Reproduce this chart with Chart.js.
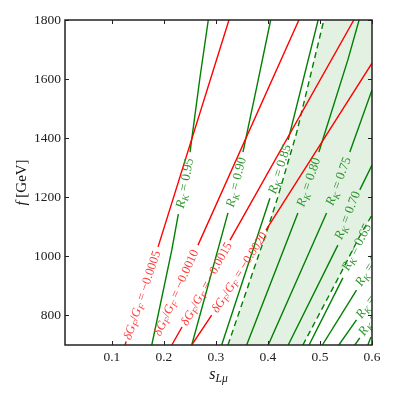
<!DOCTYPE html>
<html>
<head>
<meta charset="utf-8">
<script src="https://cdn.jsdelivr.net/npm/chart.js@4/dist/chart.umd.min.js"></script>
<style>
  html, body { margin: 0; padding: 0; background: #fff; }
</style>
</head>
<body>
<canvas id="chart" width="395" height="395"></canvas>
<script>
const xTicks = [0.1, 0.2, 0.3, 0.4, 0.5, 0.6];
const yTicks = [800, 1000, 1200, 1400, 1600, 1800];

// dG_F/G_F contours (red); null = gap where the label sits
const gfLevels = ['0.0005', '0.0010', '0.0015', '0.0020'];
const gfS = [
  [0.1255, 0.1275, null, 0.1889, 0.3251],
  [0.2656, 0.4595],
  [0.2152, 0.2349, null, 0.3271, 0.5651],
  [0.2536, 0.2919, null, 0.3962, 0.6]
];
const gfF = [
  [700, 712, null, 1032, 1800],
  [1038, 1800],
  [700, 761, null, 1055, 1800],
  [700, 801, null, 1089, 1654]
];
const gfLabelAt = [[0.157, 869], [0.2225, 878], [0.281, 908], [0.3443, 947]];

// R_K contours (green)
const rkLevels = ['0.95', '0.90', '0.85', '0.80', '0.75', '0.70', '0.65', '0.60', '0.55', '0.50', '0.45'];
const rkS = [
  [0.1768, 0.2152, 0.2278, null, 0.2503, 0.2695, 0.2854],
  [0.2536, 0.3232, null, 0.352, 0.3789, 0.4052],
  [0.3111, 0.4038, null, 0.439, 0.4965],
  [0.3591, 0.4576, null, 0.4979, 0.5536, 0.5752],
  [0.4006, 0.5127, null, 0.5574, 0.6],
  [0.439, 0.5344, null, 0.5766, 0.6],
  [0.479, 0.544],
  [0.5046, 0.5702],
  [0.5363, 0.5702],
  [0.567, 0.5766],
  [0.592, 0.598]
];
const rkF = [
  [700, 1021, 1143, null, 1353, 1607, 1800],
  [700, 1147, null, 1353, 1577, 1800],
  [700, 1197, null, 1394, 1800],
  [700, 1147, null, 1353, 1665, 1800],
  [700, 1147, null, 1353, 1563],
  [700, 1038, null, 1225, 1309],
  [700, 927],
  [700, 886],
  [700, 785],
  [700, 724],
  [700, 727]
];
const rkLabelAt = [
  [0.2388, 1248], [0.3376, 1252], [0.4211, 1296], [0.4768, 1252], [0.5344, 1255],
  [0.5516, 1140], [0.5689, 1032], [0.5983, 977], [0.601, 866], [0.606, 808], null
];

// measured R_K band edges (dashed)
const bandLoS = [0.3232, 0.4, 0.4192, 0.4551, 0.5075];
const bandLoF = [700, 1096, 1202, 1418, 1800];
const bandHiS = [0.4672, 0.5382, 0.5766, 0.6];
const bandHiF = [700, 937, 1069, 1140];

const RED = '#ff0000';
const GREEN = '#008000';
const SERIF = "'Liberation Serif', 'DejaVu Serif', serif";

function lineSet(S, F, color, dash) {
  return {
    data: S.map((s, i) => ({ x: s, y: F[i] })),
    showLine: true,
    borderColor: color,
    borderWidth: 1.4,
    borderDash: dash,
    pointRadius: 0,
    pointHoverRadius: 0,
    tension: 0,
    spanGaps: false,
    fill: false
  };
}

const datasets = [];
gfS.forEach((S, k) => datasets.push(lineSet(S, gfF[k], RED, [])));
rkS.forEach((S, k) => datasets.push(lineSet(S, rkF[k], GREEN, [])));
datasets.push(lineSet(bandLoS, bandLoF, GREEN, [6, 4]));
datasets.push(lineSet(bandHiS, bandHiF, GREEN, [6, 4]));

// draws pieces of text: [text, style]; style r / i / sr / si (s = subscript)
function drawRich(ctx, parts, size, color) {
  const fontOf = (p) => {
    const sub = p[1][0] === 's';
    const it = p[1].endsWith('i');
    return (it ? 'italic ' : '') + (sub ? size * 0.72 : size) + 'px ' + SERIF;
  };
  let w = 0;
  parts.forEach((p) => { ctx.font = fontOf(p); w += ctx.measureText(p[0]).width; });
  let x = -w / 2;
  ctx.fillStyle = color;
  ctx.textBaseline = 'alphabetic';
  ctx.textAlign = 'left';
  parts.forEach((p) => {
    ctx.font = fontOf(p);
    const sub = p[1][0] === 's';
    ctx.fillText(p[0], x, size * 0.35 + (sub ? size * 0.22 : 0));
    x += ctx.measureText(p[0]).width;
  });
}

function labelAngle(xs, ys, S, F) {
  const i = S.indexOf(null);
  const a = i > 0 ? i - 1 : 0;
  const b = i > 0 ? i + 1 : 1;
  const dx = xs.getPixelForValue(S[b]) - xs.getPixelForValue(S[a]);
  const dy = ys.getPixelForValue(F[b]) - ys.getPixelForValue(F[a]);
  return Math.atan2(dy, dx);
}

const decor = {
  id: 'decor',
  beforeDatasetsDraw(chart) {
    const { ctx, chartArea: ca, scales: { x, y } } = chart;
    ctx.save();
    ctx.beginPath();
    ctx.rect(ca.left, ca.top, ca.right - ca.left, ca.bottom - ca.top);
    ctx.clip();
    ctx.beginPath();
    bandLoS.forEach((s, i) => ctx.lineTo(x.getPixelForValue(s), y.getPixelForValue(bandLoF[i])));
    ctx.lineTo(x.getPixelForValue(0.6), y.getPixelForValue(1800));
    for (let i = bandHiS.length - 1; i >= 0; i--) {
      ctx.lineTo(x.getPixelForValue(bandHiS[i]), y.getPixelForValue(bandHiF[i]));
    }
    ctx.closePath();
    ctx.fillStyle = 'rgba(0,128,0,0.11)';
    ctx.fill();
    ctx.restore();
  },
  afterDatasetsDraw(chart) {
    const { ctx, chartArea: ca, scales: { x, y } } = chart;
    ctx.save();
    ctx.beginPath();
    ctx.rect(ca.left, ca.top, ca.right - ca.left, ca.bottom - ca.top);
    ctx.clip();
    gfLabelAt.forEach((pos, k) => {
      ctx.save();
      ctx.translate(x.getPixelForValue(pos[0]), y.getPixelForValue(pos[1]));
      ctx.rotate(labelAngle(x, y, gfS[k], gfF[k]));
      drawRich(ctx, [['δG', 'i'], ['F', 'si'], ['/', 'r'], ['G', 'i'], ['F', 'si'],
        [' = −' + gfLevels[k], 'r']], 12.5, '#ff3a3a');
      ctx.restore();
    });
    rkLabelAt.forEach((pos, k) => {
      if (!pos) return;
      ctx.save();
      ctx.translate(x.getPixelForValue(pos[0]), y.getPixelForValue(pos[1]));
      ctx.rotate(labelAngle(x, y, rkS[k], rkF[k]));
      drawRich(ctx, [['R', 'i'], ['K', 'si'], [' = ' + rkLevels[k], 'r']], 13, '#2f962f');
      ctx.restore();
    });
    ctx.restore();
  },
  afterDraw(chart) {
    const { ctx, chartArea: ca, scales: { x, y } } = chart;
    ctx.save();
    ctx.strokeStyle = '#222';
    ctx.lineWidth = 1;
    ctx.beginPath();
    xTicks.forEach((v) => {
      const px = Math.round(x.getPixelForValue(v)) + 0.5;
      ctx.moveTo(px, ca.bottom); ctx.lineTo(px, ca.bottom - 4);
      ctx.moveTo(px, ca.top); ctx.lineTo(px, ca.top + 4);
    });
    yTicks.forEach((v) => {
      const py = Math.round(y.getPixelForValue(v)) + 0.5;
      ctx.moveTo(ca.left, py); ctx.lineTo(ca.left + 4, py);
      ctx.moveTo(ca.right, py); ctx.lineTo(ca.right - 4, py);
    });
    ctx.stroke();
    ctx.lineWidth = 1.5;
    ctx.strokeRect(ca.left, ca.top, ca.right - ca.left, ca.bottom - ca.top);

    ctx.save();
    ctx.translate(21, (ca.top + ca.bottom) / 2);
    ctx.rotate(-Math.PI / 2);
    drawRich(ctx, [['f', 'i'], [' [GeV]', 'r']], 15, '#111');
    ctx.restore();

    ctx.save();
    ctx.translate((ca.left + ca.right) / 2, 373);
    drawRich(ctx, [['s', 'i'], ['Lμ', 'si']], 16, '#111');
    ctx.restore();
    ctx.restore();
  }
};

new Chart(document.getElementById('chart'), {
  type: 'scatter',
  data: { datasets },
  options: {
    responsive: false,
    animation: false,
    layout: { padding: { top: 20, right: 23, left: 0, bottom: 0 } },
    plugins: { legend: { display: false }, tooltip: { enabled: false } },
    scales: {
      x: {
        type: 'linear',
        min: 0.01,
        max: 0.6,
        grid: { display: false, drawTicks: false },
        border: { display: false },
        afterBuildTicks: (axis) => { axis.ticks = xTicks.map((v) => ({ value: v })); },
        afterFit: (axis) => { axis.height = 50; },
        ticks: {
          autoSkip: false,
          maxRotation: 0,
          padding: 4,
          color: '#222',
          font: { family: SERIF, size: 13.5 },
          callback: (v) => v.toFixed(1)
        }
      },
      y: {
        type: 'linear',
        min: 700,
        max: 1800,
        grid: { display: false, drawTicks: false },
        border: { display: false },
        afterBuildTicks: (axis) => { axis.ticks = yTicks.map((v) => ({ value: v })); },
        afterFit: (axis) => { axis.width = 65; },
        ticks: {
          autoSkip: false,
          padding: 4,
          color: '#222',
          font: { family: SERIF, size: 13.5 },
          callback: (v) => String(v)
        }
      }
    }
  },
  plugins: [decor]
});
</script>
</body>
</html>
